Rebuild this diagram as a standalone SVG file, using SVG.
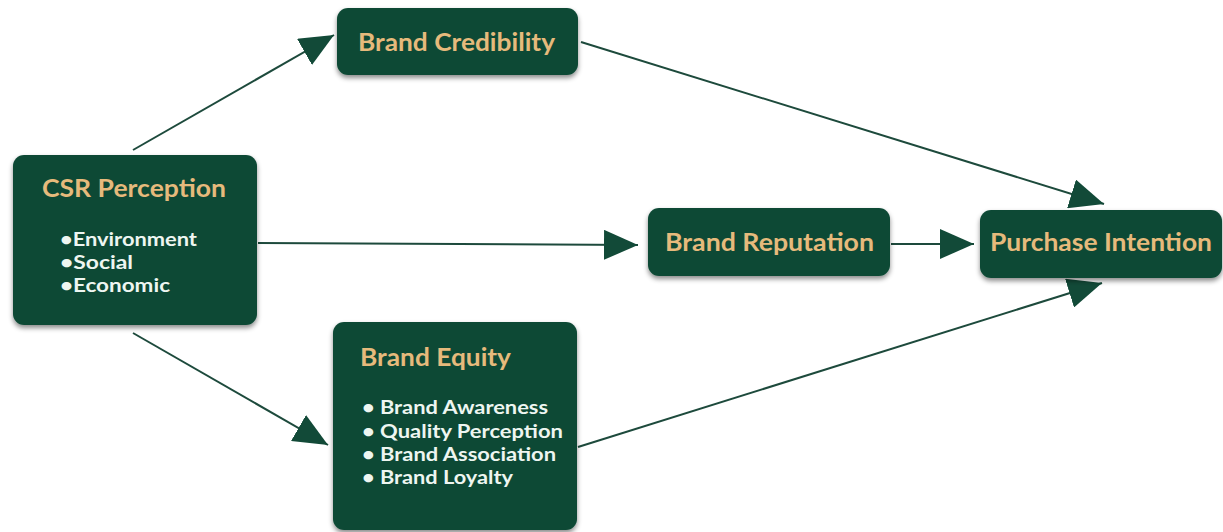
<svg xmlns="http://www.w3.org/2000/svg" width="1223" height="532" viewBox="0 0 1223 532">
  <defs>
    <filter id="shadow" x="-10%" y="-10%" width="120%" height="130%">
      <feDropShadow dx="0" dy="3" stdDeviation="2.5" flood-color="#000" flood-opacity="0.45"/>
    </filter>
    <marker id="head" viewBox="0 0 34 30" refX="34" refY="15" markerWidth="34" markerHeight="30" markerUnits="userSpaceOnUse" orient="auto">
      <path d="M0,0 L34,15 L0,30 z" fill="#124a38"/>
    </marker>
  </defs>
  <style>
    .box { fill: #0f4a36; filter: url(#shadow); }
    .title { font-family: "Lato", "Liberation Sans", sans-serif; font-weight: 700; fill: #e6ba7c; font-size: 24px; }
    .item { font-family: "Lato", "Liberation Sans", sans-serif; font-weight: 700; fill: #eef6f1; font-size: 19px; }
    .edge { stroke: #1d4a3c; stroke-width: 2; fill: none; marker-end: url(#head); }
  </style>
  <rect width="1223" height="532" fill="#ffffff"/>

  <g id="connectors">
    <line class="edge" x1="133" y1="150" x2="334" y2="35"/>
    <line class="edge" x1="258" y1="243" x2="638" y2="245"/>
    <line class="edge" x1="133" y1="333" x2="328" y2="445"/>
    <line class="edge" x1="581" y1="42" x2="1104" y2="204"/>
    <line class="edge" x1="891" y1="244" x2="974" y2="244"/>
    <line class="edge" x1="578" y1="447" x2="1102" y2="283"/>
  </g>

  <g id="csr-perception">
    <rect class="box" x="13" y="155" width="244" height="170" rx="11"/>
    <text class="title" x="42" y="197" textLength="184" lengthAdjust="spacingAndGlyphs">CSR Perception</text>
    <text class="item" x="60" y="246" textLength="137" lengthAdjust="spacingAndGlyphs">•Environment</text>
    <text class="item" x="60" y="269" textLength="73" lengthAdjust="spacingAndGlyphs">•Social</text>
    <text class="item" x="60" y="292" textLength="110" lengthAdjust="spacingAndGlyphs">•Economic</text>
  </g>

  <g id="brand-credibility">
    <rect class="box" x="337" y="8" width="241" height="67" rx="11"/>
    <text class="title" x="358" y="51" textLength="197" lengthAdjust="spacingAndGlyphs">Brand Credibility</text>
  </g>

  <g id="brand-reputation">
    <rect class="box" x="648" y="208" width="242" height="68" rx="11"/>
    <text class="title" x="665" y="251" textLength="209" lengthAdjust="spacingAndGlyphs">Brand Reputation</text>
  </g>

  <g id="purchase-intention">
    <rect class="box" x="980" y="210" width="242" height="68" rx="11"/>
    <text class="title" x="990" y="251" textLength="222" lengthAdjust="spacingAndGlyphs">Purchase Intention</text>
  </g>

  <g id="brand-equity">
    <rect class="box" x="333" y="322" width="244" height="208" rx="11"/>
    <text class="title" x="360" y="366" textLength="151" lengthAdjust="spacingAndGlyphs">Brand Equity</text>
    <text class="item" x="362" y="414" textLength="186" lengthAdjust="spacingAndGlyphs">• Brand Awareness</text>
    <text class="item" x="362" y="438" textLength="201" lengthAdjust="spacingAndGlyphs">• Quality Perception</text>
    <text class="item" x="362" y="461" textLength="194" lengthAdjust="spacingAndGlyphs">• Brand Association</text>
    <text class="item" x="362" y="484" textLength="151" lengthAdjust="spacingAndGlyphs">• Brand Loyalty</text>
  </g>
</svg>
